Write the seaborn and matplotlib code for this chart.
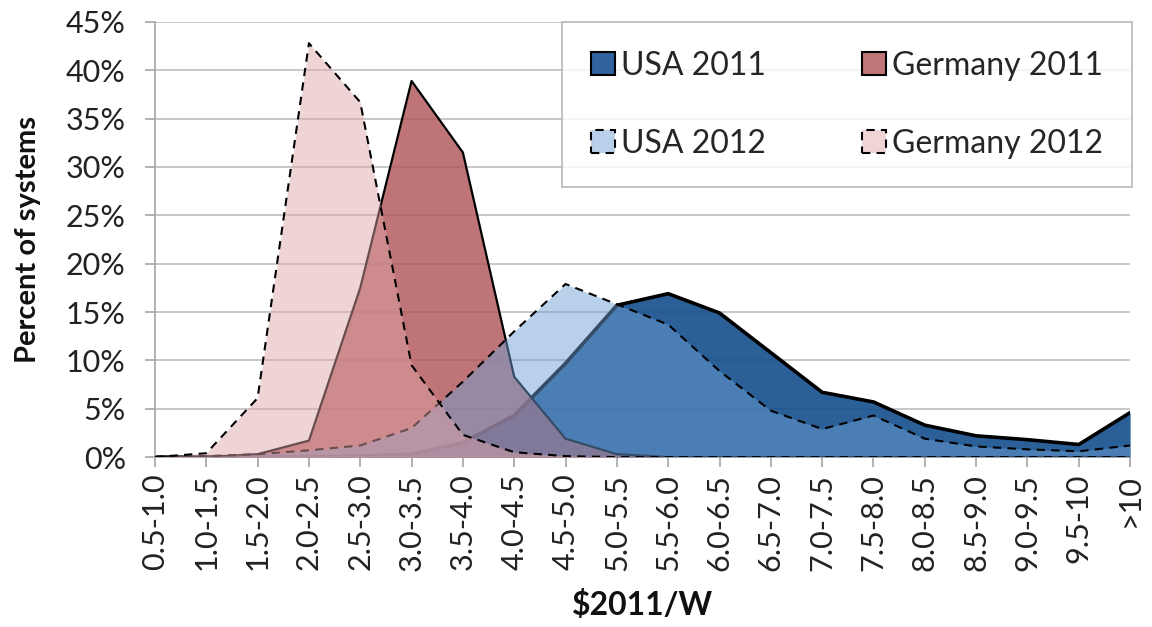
import matplotlib
matplotlib.use("Agg")
import matplotlib.pyplot as plt
from matplotlib.patches import Patch
from matplotlib.ticker import FuncFormatter, MultipleLocator
import seaborn as sns
import numpy as np

categories = ["0.5-1.0", "1.0-1.5", "1.5-2.0", "2.0-2.5", "2.5-3.0", "3.0-3.5",
              "3.5-4.0", "4.0-4.5", "4.5-5.0", "5.0-5.5", "5.5-6.0", "6.0-6.5",
              "6.5-7.0", "7.0-7.5", "7.5-8.0", "8.0-8.5", "8.5-9.0", "9.0-9.5",
              "9.5-10", ">10"]

usa_2011 = [0, 0, 0, 0, 0.1, 0.3, 1.5, 4.3, 9.7, 15.7, 16.9, 14.9, 10.8,
            6.7, 5.7, 3.3, 2.2, 1.8, 1.3, 4.6]
germany_2011 = [0, 0, 0.3, 1.7, 17.5, 38.9, 31.5, 8.3, 1.9, 0.3, 0, 0, 0,
                0, 0, 0, 0, 0, 0, 0]
usa_2012 = [0, 0.1, 0.3, 0.7, 1.2, 3.0, 7.8, 13.0, 17.9, 15.8, 13.7, 8.9,
            4.8, 2.9, 4.3, 1.9, 1.1, 0.8, 0.6, 1.2]
germany_2012 = [0, 0.4, 6.1, 42.8, 36.7, 9.5, 2.3, 0.5, 0.1, 0, 0, 0, 0,
                0, 0, 0, 0, 0, 0, 0]

# name, values, fill colour, alpha, line style, line width
series = [
    ("USA 2011", usa_2011, "#19518f", 0.92, "-", 2.6),
    ("Germany 2011", germany_2011, "#b05355", 0.8, "-", 1.6),
    ("USA 2012", usa_2012, "#6e9fd4", 0.49, (0, (4, 3)), 1.5),
    ("Germany 2012", germany_2012, "#dfa4a8", 0.47, (0, (4, 3)), 1.5),
]
# legend swatch colours as they look over white
legend_cols = ["#30629e", "#c07577", "#b8d0ea", "#f0d4d6"]

sns.set_theme(style="white")
plt.rcParams["font.family"] = ["Lato", "DejaVu Sans"]

fig = plt.figure(figsize=(11.52, 6.27), dpi=100)
ax = fig.add_axes([0.1345, 0.271, 0.8465, 0.694])

x = np.arange(len(categories))
z = 2
for name, vals, col, a, ls, lw in series:
    ax.fill_between(x, 0, vals, color=col, alpha=a, linewidth=0, zorder=z)
    sns.lineplot(x=x, y=vals, ax=ax, color="black", linestyle=ls,
                 linewidth=lw, zorder=z + 0.5)
    z += 1

ax.set_xlim(0, len(categories) - 1)
ax.set_ylim(0, 45)
ax.yaxis.set_major_locator(MultipleLocator(5))
ax.yaxis.set_major_formatter(FuncFormatter(lambda v, p: f"{v:.0f}%"))
ax.set_xticks(x)
ax.set_xticklabels(categories, rotation=90)

ax.grid(axis="y", color="#c8c8c8", linewidth=1.4, zorder=0)
ax.set_axisbelow(True)
for s in ["top", "right"]:
    ax.spines[s].set_visible(False)
for s in ["left", "bottom"]:
    ax.spines[s].set_color("#a6a6a6")
    ax.spines[s].set_linewidth(1.2)
ax.tick_params(axis="both", which="both", direction="out", length=7,
               color="#a6a6a6", width=1.2, labelsize=22, labelcolor="#222222",
               left=True, bottom=True)
ax.tick_params(axis="y", pad=14)
ax.tick_params(axis="x", pad=5)

ax.set_ylabel("Percent of systems", fontsize=21, fontweight="bold",
              color="#111111")
ax.yaxis.set_label_coords(-0.117, 0.5)
ax.set_xlabel("$2011/W", fontsize=23, fontweight="bold", color="#111111",
              labelpad=14)

handles = [Patch(facecolor=c, edgecolor="black", linestyle=s[4],
                 linewidth=1.5, label=s[0])
           for s, c in zip(series, legend_cols)]
order = [0, 2, 1, 3]
leg = ax.legend([handles[i] for i in order],
                [series[i][0] for i in order],
                ncol=2, loc="upper right", bbox_to_anchor=(1.002, 1.0),
                fontsize=23, frameon=True, fancybox=False,
                handlelength=0.75, handleheight=0.75, handletextpad=0.2,
                columnspacing=3.0, labelspacing=1.5, borderpad=0.9,
                borderaxespad=0.0)
leg.get_frame().set_edgecolor("#a6a6a6")
leg.get_frame().set_linewidth(1.2)
leg.set_zorder(10)

plt.savefig("out.png", dpi=100)
plt.close()
